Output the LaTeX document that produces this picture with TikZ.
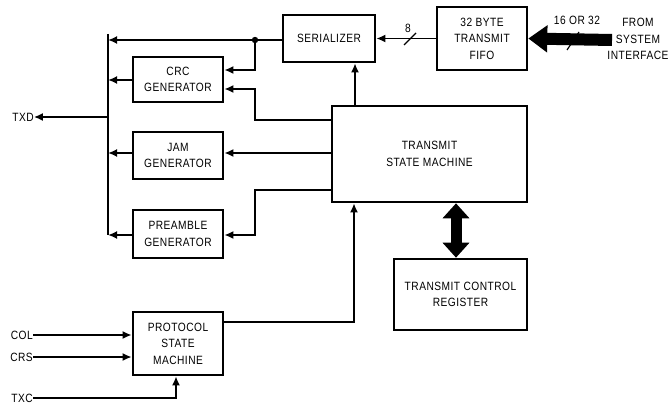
\documentclass[tikz,border=0pt]{standalone}
\usepackage{fontspec}
\setmainfont{Liberation Sans}[FakeStretch=0.85,LetterSpace=4]
\usetikzlibrary{arrows.meta,calc}
\begin{document}
\begin{tikzpicture}[x=1pt,y=-1pt,
  blk/.style={draw,line width=2.6pt,inner sep=0pt,align=center,font=\fontsize{12}{16.5}\selectfont},
  lbl/.style={inner sep=0pt,align=center,font=\fontsize{12}{16.5}\selectfont},
  arr/.style={line width=1.8pt,-{Latex[length=9pt,width=8pt]}},
  ln/.style={line width=1.8pt},
  fat/.style={line width=12pt,-{Triangle[length=19pt,width=26pt]}},
  fatd/.style={line width=11pt,{Triangle[length=15pt,width=26pt]}-{Triangle[length=15pt,width=26pt]}}]
\useasboundingbox (0,0) rectangle (668,406);
% blocks
\node[blk,minimum width=92pt,minimum height=47pt] (ser) at (329,38.5) {SERIALIZER};
\node[blk,minimum width=90pt,minimum height=63pt] (fifo) at (482,38.5) {32 BYTE\\TRANSMIT\\FIFO};
\node[blk,minimum width=90pt,minimum height=45pt] (crc) at (178,79.5) {CRC\\GENERATOR};
\node[blk,minimum width=90pt,minimum height=47pt] (jam) at (178,155.5) {JAM\\GENERATOR};
\node[blk,minimum width=90pt,minimum height=48pt] (pre) at (178,234) {PREAMBLE\\GENERATOR};
\node[blk,minimum width=90pt,minimum height=63pt] (psm) at (178,343.5) {PROTOCOL\\STATE\\MACHINE};
\node[blk,minimum width=195pt,minimum height=96pt] (tsm) at (429.5,154) {TRANSMIT\\STATE MACHINE};
\node[blk,minimum width=133pt,minimum height=71pt] (tcr) at (460.5,294.5) {TRANSMIT CONTROL\\REGISTER};
% labels
\node[lbl] (txd) at (23,117) {TXD};
\node[lbl,anchor=east] (col) at (33,335) {COL};
\node[lbl,anchor=east] (crs) at (33,357) {CRS};
\node[lbl,anchor=east] (txc) at (33,398) {TXC};
\node[lbl] (eight) at (408,28) {8};
\node[lbl] (w16) at (577,20) {16 OR 32};
\node[lbl] (sys) at (638,39) {FROM\\SYSTEM\\INTERFACE};
% coordinates
\coordinate (btop) at (108,34);
\coordinate (bbot) at (108,235);
\coordinate (dot) at (255,40);
\coordinate (sysin) at (612,40);
% bus
\draw[ln] (btop) -- (bbot);
% fifo to serializer
\draw[arr] (fifo.west) -- (ser.east);
\draw[ln,line width=1.2pt] (404,45) -- (416,33);
% system interface
\draw[ln,line width=1.2pt] (567,50) -- (579,32);
\draw[fat] (sysin) -- (fifo.east);
% serializer output
\draw[arr] (ser.west |- dot) -- (btop |- dot);
\fill (dot) circle (3.2pt);
\draw[arr] (dot) -- (dot |- 0,70) -- (crc.east |- 0,70);
\draw[arr] (tsm.west |- 0,120) -- (255,120) -- (255,89) -- (crc.east |- 0,89);
\draw[arr] (tsm.north -| 355,0) -- (ser.south -| 355,0);
% generator outputs
\draw[arr] (crc.west |- 0,80) -- (btop |- 0,80);
\draw[arr] (jam.west |- 0,153) -- (btop |- 0,153);
\draw[arr] (pre.west |- 0,235) -- (bbot);
% tsm to generators
\draw[arr] (tsm.west |- 0,153) -- (jam.east |- 0,153);
\draw[arr] (tsm.west |- 0,190) -- (255,190) -- (255,235) -- (pre.east |- 0,235);
% TXD
\draw[arr] (btop |- 0,117) -- (txd.east);
% protocol inputs
\draw[arr] (col.east) -- (psm.west |- col.east);
\draw[arr] (crs.east) -- (psm.west |- crs.east);
\draw[arr] (txc.east) -- (176,398) -- (psm.south -| 176,0);
\draw[arr] (psm.east |- 0,322) -- (354,322) -- (tsm.south -| 354,0);
% tsm <-> tcr
\draw[fatd] (tsm.south -| 456,0) -- (tcr.north -| 456,0);
\end{tikzpicture}
\end{document}
